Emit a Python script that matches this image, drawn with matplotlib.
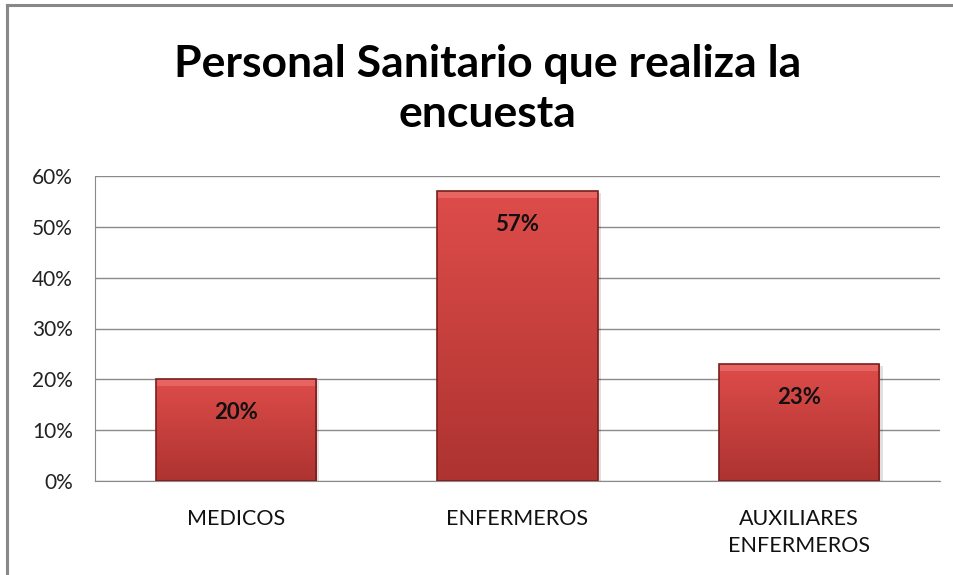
import numpy as np
import matplotlib
matplotlib.use('Agg')
import matplotlib.pyplot as plt
from matplotlib.lines import Line2D
from matplotlib.patches import Rectangle

categories = ['MEDICOS', 'ENFERMEROS', 'AUXILIARES\nENFERMEROS']
values = [20, 57, 23]
value_labels = ['20%', '57%', '23%']
y_ticks = [0, 10, 20, 30, 40, 50, 60]
y_tick_labels = ['0%', '10%', '20%', '30%', '40%', '50%', '60%']
title = 'Personal Sanitario que realiza la\nencuesta'

plt.rcParams['font.family'] = ['Lato', 'DejaVu Sans']

W, H = 954, 575
fig = plt.figure(figsize=(W / 100, H / 100), dpi=100)
ax = fig.add_axes([95 / W, 1 - 481 / H, (940 - 95) / W, (481 - 176) / H])

x = np.arange(len(categories))
bar_w = 0.57
bars = ax.bar(x, values, width=bar_w, color='#c43c3a', zorder=3)

# gradient + bevel look on each bar
grad = np.linspace(0, 1, 256).reshape(-1, 1)
top_c = np.array([0.87, 0.30, 0.29])
bot_c = np.array([0.68, 0.20, 0.19])
img = (top_c * (1 - grad)[..., None] + bot_c * grad[..., None]).reshape(256, 1, 3)
for b in bars:
    x0, y0 = b.get_x(), b.get_y()
    bw, bh = b.get_width(), b.get_height()
    # soft shadow
    sh = Rectangle((x0 + 0.012, y0 - 0.4), bw, bh, color='#000000', alpha=0.12,
                   zorder=2, lw=0)
    ax.add_patch(sh)
    im = ax.imshow(img, extent=[x0, x0 + bw, y0, y0 + bh], aspect='auto',
                   zorder=4, origin='upper')
    im.set_clip_path(b)
    # top highlight and darker rim
    ax.add_patch(Rectangle((x0, y0 + bh - 1.3), bw, 1.3, color='#f07c78',
                           alpha=0.55, lw=0, zorder=5))
    ax.add_patch(Rectangle((x0, y0), bw, bh, fill=False, ec='#7a1e1c',
                           lw=1.2, zorder=6))

for xi, v, lab in zip(x, values, value_labels):
    ax.annotate(lab, (xi, v), xytext=(0, -24), textcoords='offset points',
                ha='center', va='center', fontsize=16, fontweight='bold',
                color='#111111', zorder=7)

ax.set_xlim(-0.5, 2.5)
ax.set_ylim(0, 60)
ax.set_yticks(y_ticks)
ax.set_yticklabels(y_tick_labels, fontsize=15, color='#222222')
ax.set_xticks(x)
ax.set_xticklabels(categories, fontsize=15.5, color='#111111', linespacing=1.45)
ax.tick_params(axis='x', length=0, pad=20)
ax.tick_params(axis='y', length=0, pad=16)
ax.grid(axis='y', color='#8a8a8a', lw=1.0, zorder=0)
for s in ['top', 'right']:
    ax.spines[s].set_visible(False)
ax.spines['left'].set_color('#8a8a8a')
ax.spines['bottom'].set_color('#8a8a8a')
ax.set_axisbelow(True)

fig.text(488 / W, 1 - 89 / H, title, ha='center', va='center', fontsize=32,
         fontweight='bold', color='#000000', linespacing=1.32)

# outer chart border (left and top only visible)
bx, by = 7 / W, 1 - 5 / H
fig.add_artist(Line2D([bx, bx], [0, by], transform=fig.transFigure,
                      color='#888888', lw=2.2))
fig.add_artist(Line2D([bx, 1], [by, by], transform=fig.transFigure,
                      color='#888888', lw=2.2))

fig.savefig('out.png', dpi=100)
